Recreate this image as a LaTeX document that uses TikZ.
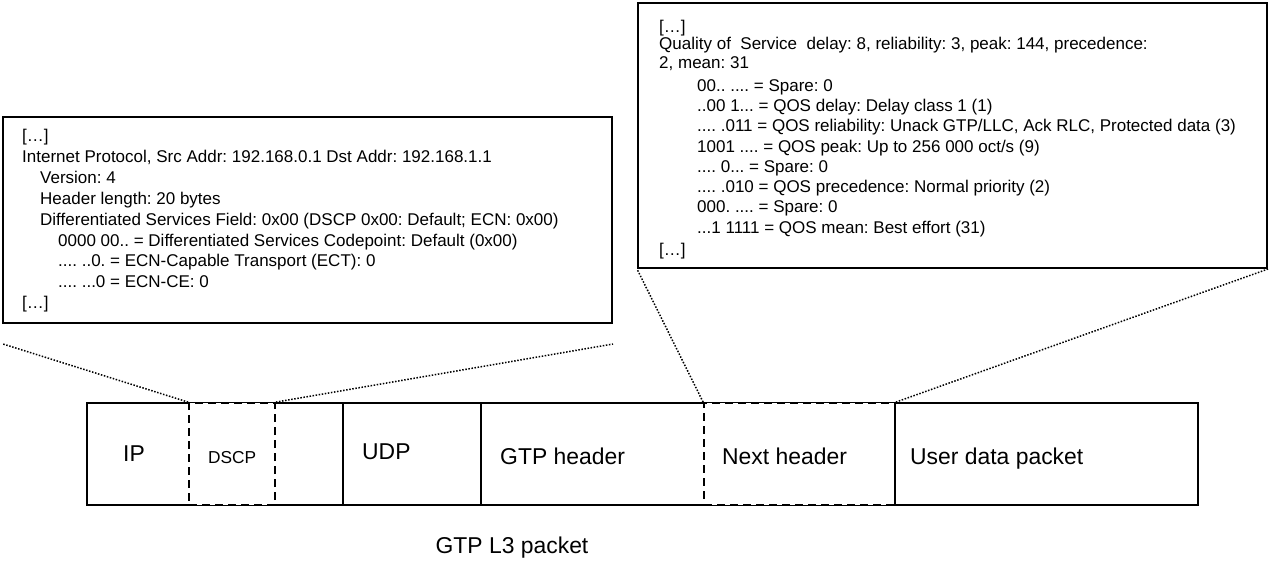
\documentclass[tikz,border=0pt]{standalone}
\usepackage{fontspec}
\setmainfont{Liberation Sans}
\frenchspacing
\usetikzlibrary{calc}

\begin{document}
\begin{tikzpicture}[x=1pt,y=-1pt]

		\tikzset{frame/.style={draw,line width=2pt,inner sep=0pt}}
		\tikzset{field/.style={draw,line width=1.8pt,inner sep=0pt,minimum height=102pt}}
		\tikzset{sub/.style={field,fill=white,dash pattern=on 8pt off 5pt}}
		\tikzset{zoomline/.style={draw,line width=1.5pt,dash pattern=on 1.5pt off 1.6pt}}
		\tikzset{lbl/.style={inner sep=0pt,anchor=base west,font=\fontsize{22.9}{26}\selectfont}}
		\tikzset{dump/.style={inner sep=0pt,anchor=north west,align=left,font=\fontsize{17}{20.3}\selectfont}}

		\useasboundingbox (0,0) rectangle (1271,561);

		% Decoded headers.
		\node[frame,minimum width=609pt,minimum height=206pt] (lbox) at (307.5,220) {};
		\node[frame,minimum width=629pt,minimum height=265pt] (rbox) at (952.5,135.5) {};

		\node[dump,font=\fontsize{17}{20.9}\selectfont] (ltext) at (22,129) {{[…]}\\
			Internet Protocol, Src Addr: 192.168.0.1 Dst Addr: 192.168.1.1\\
			\hspace*{18pt}Version: 4\\
			\hspace*{18pt}Header length: 20 bytes\\
			\hspace*{18pt}Differentiated Services Field: 0x00 (DSCP 0x00: Default; ECN: 0x00)\\
			\hspace*{36pt}0000 00.. = Differentiated Services Codepoint: Default (0x00)\\
			\hspace*{36pt}.... ..0. = ECN-Capable Transport (ECT): 0\\
			\hspace*{36pt}.... ...0 = ECN-CE: 0\\
			{[…]}};

		\node[dump] (rtext) at (659,19.6) {{[…]}\\[-2.8pt]
			Quality of~ Service~ delay: 8, reliability: 3, peak: 144, precedence:\\[-1.8pt]
			2, mean: 31\\[2.7pt]
			\hspace*{38pt}00.. .... = Spare: 0\\
			\hspace*{38pt}..00 1... = QOS delay: Delay class 1 (1)\\
			\hspace*{38pt}.... .011 = QOS reliability: Unack GTP/LLC, Ack RLC, Protected data (3)\\
			\hspace*{38pt}1001 .... = QOS peak: Up to 256 000 oct/s (9)\\
			\hspace*{38pt}.... 0... = Spare: 0\\
			\hspace*{38pt}.... .010 = QOS precedence: Normal priority (2)\\
			\hspace*{38pt}000. .... = Spare: 0\\
			\hspace*{38pt}...1 1111 = QOS mean: Best effort (31)\\[1.7pt]
			{[…]}};

		% Packet fields.
		\node[field,minimum width=256pt] (ip) at (215,454) {};
		\node[field,minimum width=138pt] (udp) at (412,454) {};
		\node[field,minimum width=414pt] (gtp) at (688,454) {};
		\node[sub,minimum width=86pt] (dscp) at (232,454) {};
		\node[sub,minimum width=191pt] (next) at (799.5,454) {};
		\node[field,minimum width=303pt] (user) at (1046.5,454) {};

		\node[lbl] (lip) at (123,461) {IP};
		\node[lbl,font=\fontsize{17.3}{20}\selectfont] (ldscp) at (208,463) {DSCP};
		\node[lbl] (ludp) at (362,459) {UDP};
		\node[lbl] (lgtp) at (500,464) {GTP header};
		\node[lbl] (lnext) at (722,464) {Next header};
		\node[lbl] (luser) at (910,464) {User data packet};

		\node[lbl,anchor=base] (title) at (512,553) {GTP L3 packet};

		% Zoom lines.
		\coordinate (lfoot) at (3,344);
		\coordinate (rfoot) at (613,344);

		\path[zoomline] (dscp.north west) to (lfoot);
		\path[zoomline] (dscp.north east) to (rfoot);
		\path[zoomline] (next.north west) to (rbox.south west);
		\path[zoomline] (next.north east) to (rbox.south east);

\end{tikzpicture}
\end{document}
